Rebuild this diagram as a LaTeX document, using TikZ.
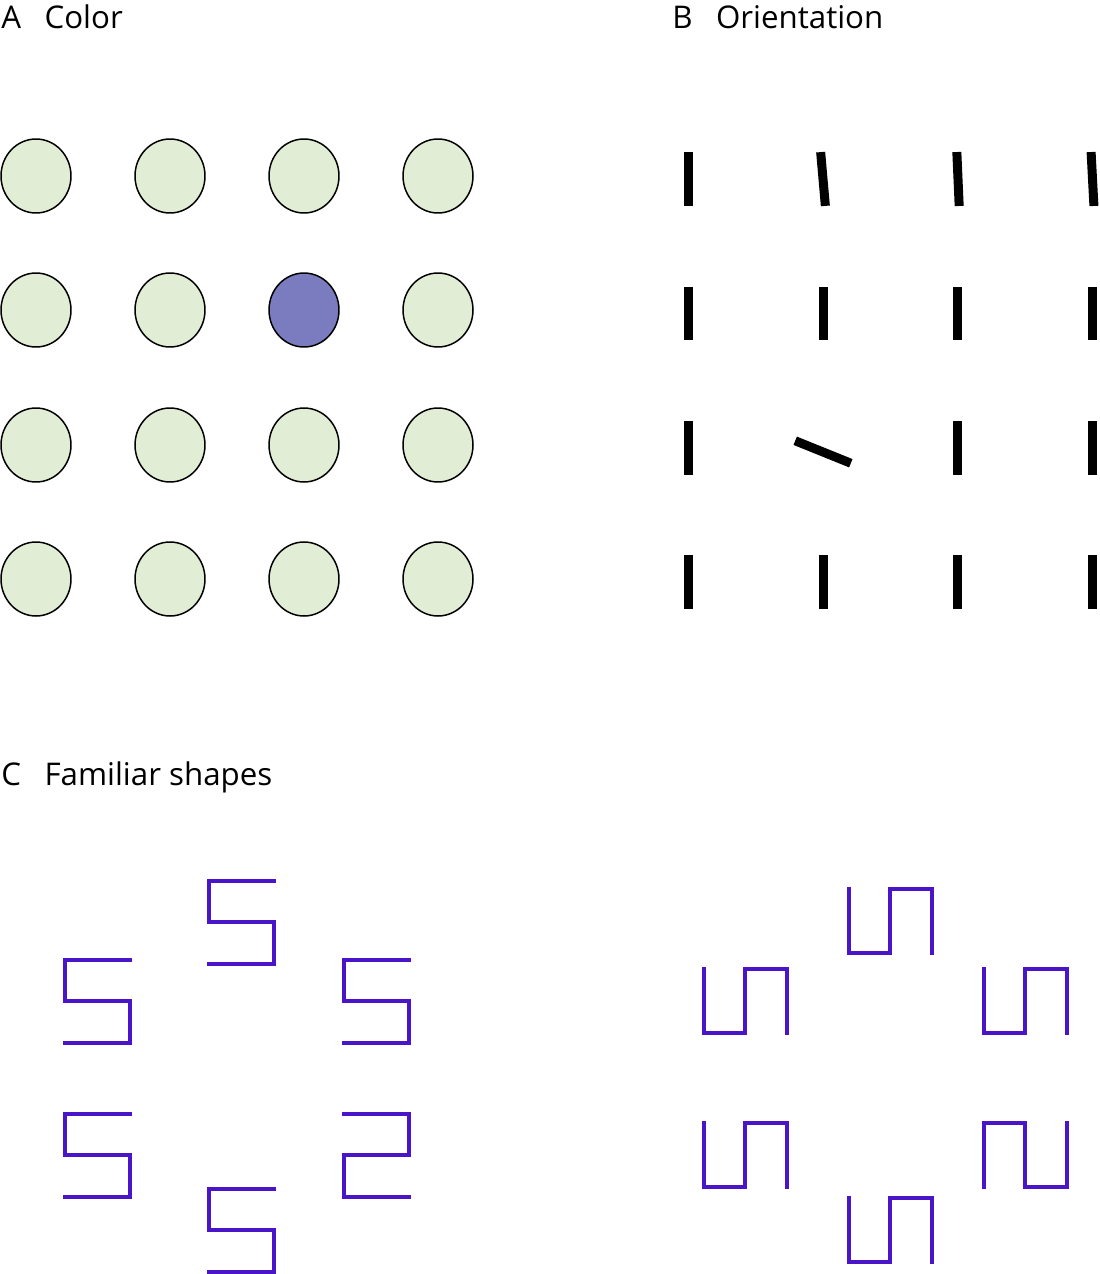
\documentclass[tikz,border=0pt]{standalone}
\usepackage{fontspec}
\setmainfont{Open Sans}
\usetikzlibrary{shapes.geometric}
\definecolor{dotgreen}{RGB}{226,237,213}
\definecolor{dotpurple}{RGB}{123,123,192}
\definecolor{glyphviolet}{RGB}{74,20,200}
\tikzset{
    dot/.style={ellipse, draw=black, line width=0.03cm, fill=dotgreen, minimum width=1.4cm, minimum height=1.48cm, inner sep=0pt},
    bar/.style={rectangle, fill=black, minimum width=0.18cm, minimum height=1.08cm, inner sep=0pt},
    panellabel/.style={anchor=base west, inner sep=0pt, font=\fontsize{17.8}{21}\selectfont},
    glyph/.style={line width=0.085cm, draw=glyphviolet}
}
\newcommand{\sglyph}{\draw[glyph] (69,0) -- (2,0) -- (2,41) -- (67,41) -- (67,83) -- (0,83);}
\newcommand{\uglyph}{\draw[glyph] (0,0) -- (0,66) -- (41,66) -- (41,2) -- (83,2) -- (83,68);}

\begin{document}
\begin{tikzpicture}[x=0.02cm, y=-0.02cm]
    \useasboundingbox (0,0) rectangle (1099,1274);

    % panel labels
    \node[panellabel] (labA) at (1,29) {A\hspace{0.75em}Color};
    \node[panellabel] (labB) at (672,29) {B\hspace{0.75em}Orientation};
    \node[panellabel] (labC) at (1,785) {C\hspace{0.75em}Familiar shapes};

    % A: colour pop-out
    \foreach \r [count=\j] in {176,310,445,579}
        \foreach \c [count=\i] in {36,170,304,438} {
            \ifnum\i\j=32 \def\dotfill{dotpurple}\else\def\dotfill{dotgreen}\fi
            \node[dot, fill=\dotfill] (dot\i\j) at (\c,\r) {};
        }

    % B: orientation pop-out
    \node[bar] (bar11) at (688.5,179) {};
    \node[bar, rotate=5] (bar21) at (823,179) {};
    \node[bar, rotate=2.5] (bar31) at (958,179) {};
    \node[bar, rotate=3] (bar41) at (1092.5,179) {};
    \foreach \c [count=\i] in {688.5,823,957.5,1092.5} {
        \node[bar] (bar\i2) at (\c,313.5) {};
        \node[bar] (bar\i4) at (\c,582) {};
    }
    \node[bar] (bar13) at (688.5,448) {};
    \node[bar, rotate=68, minimum height=1.2cm] (bar23) at (823,452) {};
    \node[bar] (bar33) at (957.5,448) {};
    \node[bar] (bar43) at (1092.5,448) {};

    % C: familiar shapes (left) and rotated ones (right)
    \foreach \x/\y/\s in {63/960/1, 207/881/1, 342/960/1, 63/1114/1, 207/1189/1, 411/1114/-1}
        \begin{scope}[shift={(\x,\y)}, xscale=\s]
            \sglyph
        \end{scope};
    \foreach \x/\y/\s in {849/887/1, 704/967/1, 984/967/1, 704/1121/1, 849/1196/1, 984/1189/-1}
        \begin{scope}[shift={(\x,\y)}, yscale=\s]
            \uglyph
        \end{scope};
\end{tikzpicture}
\end{document}
